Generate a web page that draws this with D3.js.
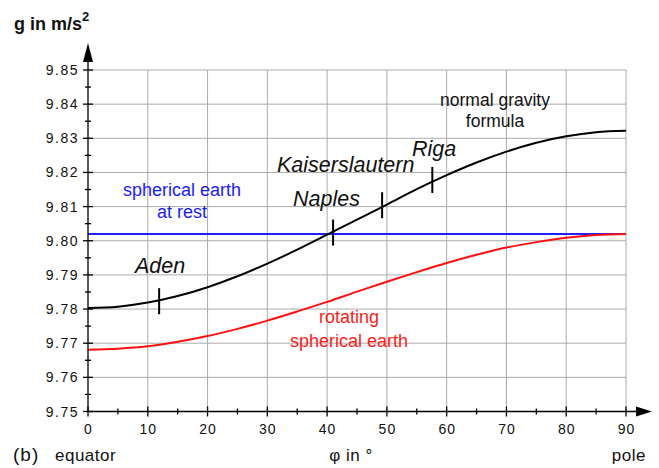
<!DOCTYPE html>
<html>
<head>
<meta charset="utf-8">
<script src="https://cdn.jsdelivr.net/npm/d3@7"></script>
<style>
  body { margin: 0; background: #fff; }
  svg { display: block; font-family: "Liberation Sans", Arial, sans-serif; }
</style>
</head>
<body>
<svg width="659" height="468"></svg>
<script>
// latitude in degrees
const latitudes = [0, 5, 10, 15, 20, 25, 30, 35, 40, 45, 50, 55, 60, 65, 70, 75, 80, 85, 90];
// normal gravity formula (black)
const normalGravity = [9.7803, 9.7807, 9.7819, 9.7838, 9.7864, 9.7896, 9.7933, 9.7974, 9.8018, 9.8062,
                       9.8106, 9.8151, 9.8192, 9.8229, 9.8261, 9.8287, 9.8306, 9.8318, 9.8322];
// rotating spherical earth (red)
const rotatingEarth = [9.7681, 9.7684, 9.7691, 9.7704, 9.7721, 9.7742, 9.7766, 9.7793, 9.7821, 9.7851,
                       9.7880, 9.7908, 9.7935, 9.7959, 9.7980, 9.7996, 9.8009, 9.8017, 9.8020];
// spherical earth at rest (blue)
const restEarth = 9.802;

const cities = ["Aden", "Naples", "Kaiserslautern", "Riga"];
const cityLat = [11.9, 41, 49.2, 57.6];
const cityG = [9.7823, 9.8024, 9.8104, 9.8178];

const xTicks = [0, 10, 20, 30, 40, 50, 60, 70, 80, 90];
const yTicks = [9.75, 9.76, 9.77, 9.78, 9.79, 9.80, 9.81, 9.82, 9.83, 9.84, 9.85];

const svg = d3.select("svg");

const x = d3.scaleLinear().domain([0, 90]).range([88, 626]);
const y = d3.scaleLinear().domain([9.75, 9.85]).range([411.5, 70]);

// сетка
const grid = svg.append("g").attr("stroke", "#ababab").attr("stroke-width", 1);
grid.selectAll(".vx").data(xTicks.slice(1)).join("line")
  .attr("x1", d => x(d)).attr("x2", d => x(d))
  .attr("y1", y(9.85)).attr("y2", y(9.75));
grid.selectAll(".hy").data(yTicks.slice(1)).join("line")
  .attr("x1", x(0)).attr("x2", x(90))
  .attr("y1", d => y(d)).attr("y2", d => y(d));

// кривые
const line = d3.line().x((d, i) => x(latitudes[i])).y(d => y(d)).curve(d3.curveMonotoneX);

svg.append("line")
  .attr("x1", x(0)).attr("x2", x(90))
  .attr("y1", y(restEarth)).attr("y2", y(restEarth))
  .attr("stroke", "#2020ff").attr("stroke-width", 2);

svg.append("path").attr("d", line(rotatingEarth))
  .attr("fill", "none").attr("stroke", "#ff1010").attr("stroke-width", 2);

svg.append("path").attr("d", line(normalGravity))
  .attr("fill", "none").attr("stroke", "#000").attr("stroke-width", 2);

// отметки городов
svg.selectAll(".city").data(cities).join("line")
  .attr("x1", (d, i) => x(cityLat[i])).attr("x2", (d, i) => x(cityLat[i]))
  .attr("y1", (d, i) => y(cityG[i]) - 13).attr("y2", (d, i) => y(cityG[i]) + 13)
  .attr("stroke", "#000").attr("stroke-width", 2);

const cityLabelPos = [[135, 273], [293, 206], [277, 172], [412, 156]];
svg.selectAll(".cityLabel").data(cities).join("text")
  .attr("x", (d, i) => cityLabelPos[i][0]).attr("y", (d, i) => cityLabelPos[i][1])
  .attr("font-size", 21.5).attr("font-style", "italic").attr("fill", "#111")
  .text(d => d);

// подписи кривых
function label(lines, cx, y0, dy, color, size) {
  svg.append("g").selectAll("text").data(lines).join("text")
    .attr("x", cx).attr("y", (d, i) => y0 + i * dy)
    .attr("text-anchor", "middle").attr("font-size", size).attr("fill", color)
    .text(d => d);
}
label(["normal gravity", "formula"], 495, 106, 21, "#111", 17.5);
label(["spherical earth", "at rest"], 182, 196, 22, "#1a1aff", 18);
label(["rotating", "spherical earth"], 349, 323, 24, "#ff1a1a", 18);

// оси
const axes = svg.append("g").attr("stroke", "#000").attr("stroke-width", 1.3);
axes.append("line").attr("x1", x(0)).attr("x2", 640).attr("y1", y(9.75)).attr("y2", y(9.75));
axes.append("line").attr("x1", x(0)).attr("x2", x(0)).attr("y1", y(9.75)).attr("y2", 56);

svg.append("path")
  .attr("d", `M652,${y(9.75)} L636,${y(9.75) - 5} L636,${y(9.75) + 5} Z`).attr("fill", "#000");
svg.append("path")
  .attr("d", `M${x(0)},43 L${x(0) - 5},62 L${x(0) + 5},62 Z`).attr("fill", "#000");

// засечки
const minorX = d3.range(5, 90, 10);
axes.selectAll(".mx").data(minorX).join("line")
  .attr("x1", d => x(d)).attr("x2", d => x(d))
  .attr("y1", y(9.75) - 3).attr("y2", y(9.75) + 3);
axes.selectAll(".tx").data(xTicks).join("line")
  .attr("x1", d => x(d)).attr("x2", d => x(d))
  .attr("y1", y(9.75) - 5).attr("y2", y(9.75) + 5);
const minorY = d3.range(0, 10).map(i => 9.755 + i * 0.01);
axes.selectAll(".my").data(minorY).join("line")
  .attr("x1", x(0) - 3).attr("x2", x(0) + 3)
  .attr("y1", d => y(d)).attr("y2", d => y(d));
axes.selectAll(".ty").data(yTicks).join("line")
  .attr("x1", x(0) - 5).attr("x2", x(0) + 5)
  .attr("y1", d => y(d)).attr("y2", d => y(d));

// подписи делений
svg.selectAll(".xl").data(xTicks).join("text")
  .attr("x", d => x(d) + 0.5).attr("y", 434)
  .attr("text-anchor", "middle").attr("font-size", 14).attr("letter-spacing", 1).attr("fill", "#111")
  .text(d => d);
svg.selectAll(".yl").data(yTicks).join("text")
  .attr("x", 79).attr("y", d => y(d) + 5)
  .attr("text-anchor", "end").attr("font-size", 14).attr("letter-spacing", 1.5).attr("fill", "#111")
  .text(d => d.toFixed(2));

// заголовки осей
const yTitle = svg.append("text").attr("x", 14).attr("y", 30)
  .attr("font-size", 18).attr("font-weight", "bold").attr("fill", "#111");
yTitle.append("tspan").text("g in m/s");
yTitle.append("tspan").attr("dy", -9).attr("font-size", 13).text("2");

svg.append("text").attr("x", 13).attr("y", 461).attr("font-size", 19).attr("letter-spacing", 1).attr("fill", "#111").text("(b)");
const bottomStyle = t => t.attr("y", 461).attr("font-size", 17).attr("letter-spacing", 0.5).attr("fill", "#111");
svg.append("text").call(bottomStyle).attr("x", 55).text("equator");
svg.append("text").call(bottomStyle).attr("x", 351).attr("text-anchor", "middle").text("φ in °");
svg.append("text").call(bottomStyle).attr("x", 646).attr("text-anchor", "end").text("pole");
</script>
</body>
</html>
